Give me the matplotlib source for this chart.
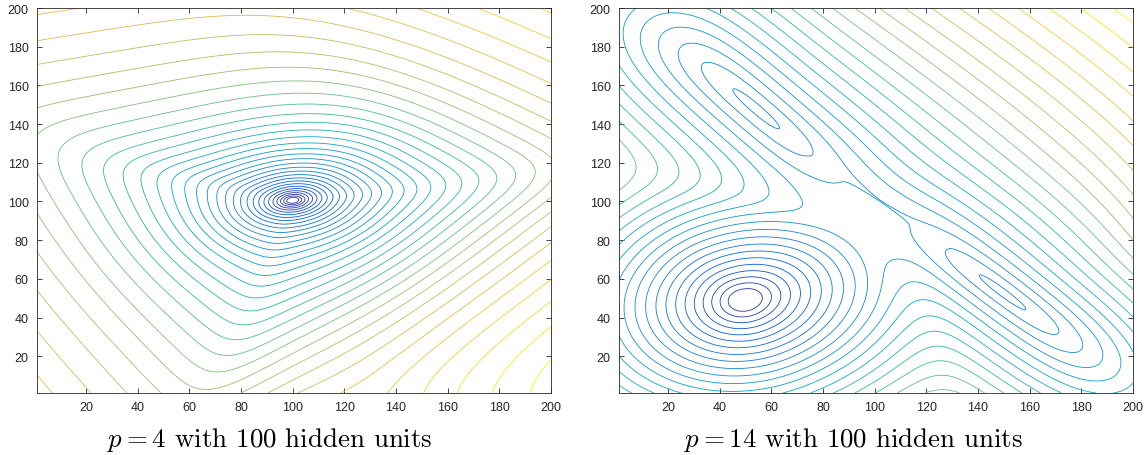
import numpy as np
import matplotlib
matplotlib.use("Agg")
import matplotlib.pyplot as plt
from matplotlib.colors import LinearSegmentedColormap

# ---------------- data ----------------
titles = [r"$p = 4$ with 100 hidden units", r"$p = 14$ with 100 hidden units"]
title_centers_px = [270, 854]
x_ticks = [20, 40, 60, 80, 100, 120, 140, 160, 180, 200]
y_ticks = [20, 40, 60, 80, 100, 120, 140, 160, 180, 200]
grid_range = [1, 200]

# left panel (p = 4): one minimum, elliptic core, triangular outer rings
left_center = [100.0, 100.6]
left_inner_tilt_deg = 10
left_inner_aspect = 1.6
left_side_normals_deg = [100, 60, 210, 311]
left_side_scales = [36, 50, 58, 47]
left_side_far_gain = [0.7, 1.5, 1.2, 2.2]
left_ref_radius = 88
left_blend_radius = 40
left_bend_shift = [24.0, 22.0]      # S-bend of lower-right lines (size, height)
left_log_offset = 8.0
left_level_step = 0.106
left_first_level = 2.2              # in steps above the minimum

# right panel (p = 14): three minima, the valley joining them, top-right slope
right_centers_x = [49.5, 149.5, 54.0, 101.75]
right_centers_y = [49.0, 53.0, 148.0, 100.5]
right_axis_angle_deg = [25, -45, -49, -44.85]
right_axis_major_pos = [1.12, 6.5, 7.0, 5.0]
right_axis_major_neg = [0.98, 6.5, 7.0, 5.0]
right_axis_quartic = [0, 220, 220, 120]
right_axis_minor_gain = [1.15, 1.2, 1.0, 1.3]
right_floor = [0.0, 33.5, 33.5, 41.0]
right_valley_core = 5.0
right_valley_low_side = [0.15, 0.01]   # linear / quadratic rise towards c1
right_slope_angle_deg = -41.7
right_slope_gain = 0.94
right_slope_floor = 44.0
right_log_offset = 100.0
right_level_step = 0.0302
right_first_level = 2.0

color_gamma = [1.5, 1.3]
parula_anchors = ['#352a87', '#0363e1', '#1485d4', '#06a7c6', '#38b99e',
                  '#92bf73', '#d9ba56', '#fcce2e', '#f9fb0e']

# ---------------- fields ----------------
n = 500
xs = np.linspace(grid_range[0], grid_range[1], n)
X, Y = np.meshgrid(xs, xs)


def rot(cx, cy, ang_deg):
    a = np.deg2rad(ang_deg)
    dx, dy = X - cx, Y - cy
    u = dx * np.cos(a) + dy * np.sin(a)
    v = -dx * np.sin(a) + dy * np.cos(a)
    return u, v


def soft_relu(z, s=0.2):
    return s * np.logaddexp(0, z / s)


def left_field():
    cx, cy = left_center
    u, v = rot(cx, cy, left_inner_tilt_deg)
    E = np.sqrt(u ** 2 + (left_inner_aspect * v) ** 2)
    s_size, s_height = left_bend_shift
    wx = 1 / (1 + np.exp(-(X - 120) / 12))
    Xb = X - s_size * np.exp(-(Y - 1) / s_height) * wx
    dx, dy = Xb - cx, Y - cy
    acc = 0
    for ang, h, k in zip(left_side_normals_deg, left_side_scales,
                         left_side_far_gain):
        a = np.deg2rad(ang)
        t = np.maximum(dx * np.cos(a) + dy * np.sin(a), 0) / h
        t = t + (k - 1) * soft_relu(t - 1)
        acc = acc + np.maximum(t, 0) ** 6
    T = acc ** (1 / 6) * left_ref_radius
    rho2 = (X - cx) ** 2 + (Y - cy) ** 2
    w = rho2 / (rho2 + left_blend_radius ** 2)
    G = E * (1 - w) + T * w
    return np.log(left_log_offset + G)


def right_field():
    Ds = []
    for i in range(4):
        u, v = rot(right_centers_x[i], right_centers_y[i],
                   right_axis_angle_deg[i])
        scale = np.where(u > 0, right_axis_major_pos[i],
                         right_axis_major_neg[i])
        along = (u / scale) ** 2
        if right_axis_quartic[i]:
            along = along + (u ** 2 / right_axis_quartic[i]) ** 2
        g = right_axis_minor_gain[i]
        across = (g * v) ** 2
        if i == 3:
            lin, quad = right_valley_low_side
            low = lin * np.abs(v) + quad * v ** 2
            across = np.where(v > 0, across, low ** 2) + right_valley_core ** 2
        Ds.append(right_floor[i] + np.sqrt(along + across))
    # smooth one-sided plane rising towards the top-right corner
    u, v = rot(right_centers_x[3], right_centers_y[3], right_slope_angle_deg)
    kv = np.where(v > 0, right_slope_gain, 10.0) * v
    Ds.append(right_slope_floor + np.sqrt(64 + kv ** 2) +
              10 * (u / 80) ** 4)
    p = 10
    acc = sum((np.maximum(D, 1e-6)) ** (-p) for D in Ds)
    D = acc ** (-1 / p)
    return np.log(right_log_offset + D)


fields = [left_field(), right_field()]
steps = [left_level_step, right_level_step]
firsts = [left_first_level, right_first_level]

cmap = LinearSegmentedColormap.from_list('parula_like', parula_anchors)

# ---------------- figure ----------------
W, H = 1146, 456
fig = plt.figure(figsize=(W / 100, H / 100), dpi=100)
ax_px = [(37, 9, 514, 385), (619, 9, 514, 385)]

for k, (F, step, first) in enumerate(zip(fields, steps, firsts)):
    l, t, w, h = ax_px[k]
    ax = fig.add_axes([l / W, 1 - (t + h) / H, w / W, h / H])
    fmin, fmax = F.min(), F.max()
    levels = np.arange(fmin + first * step, fmax, step)
    frac = ((levels - fmin) / (fmax - fmin)) ** color_gamma[k]
    colors = [cmap(f) for f in frac]
    ax.contour(X, Y, F, levels=levels, colors=colors, linewidths=0.6)
    ax.set_xlim(grid_range)
    ax.set_ylim(grid_range)
    ax.set_xticks(x_ticks)
    ax.set_yticks(y_ticks)
    ax.tick_params(direction='in', top=True, right=True, length=3.5,
                   width=0.6, colors='#262626', labelsize=9, pad=6)
    for lab in ax.get_xticklabels() + ax.get_yticklabels():
        lab.set_fontfamily('Liberation Sans')
        lab.set_color('#262626')
    for s in ax.spines.values():
        s.set_color('#262626')
        s.set_linewidth(0.6)
    fig.text(title_centers_px[k] / W, 1 - 440 / H, titles[k], ha='center',
             va='center', fontsize=19.4, family='cmr10',
             math_fontfamily='cm')

fig.savefig('out.png', dpi=100)
